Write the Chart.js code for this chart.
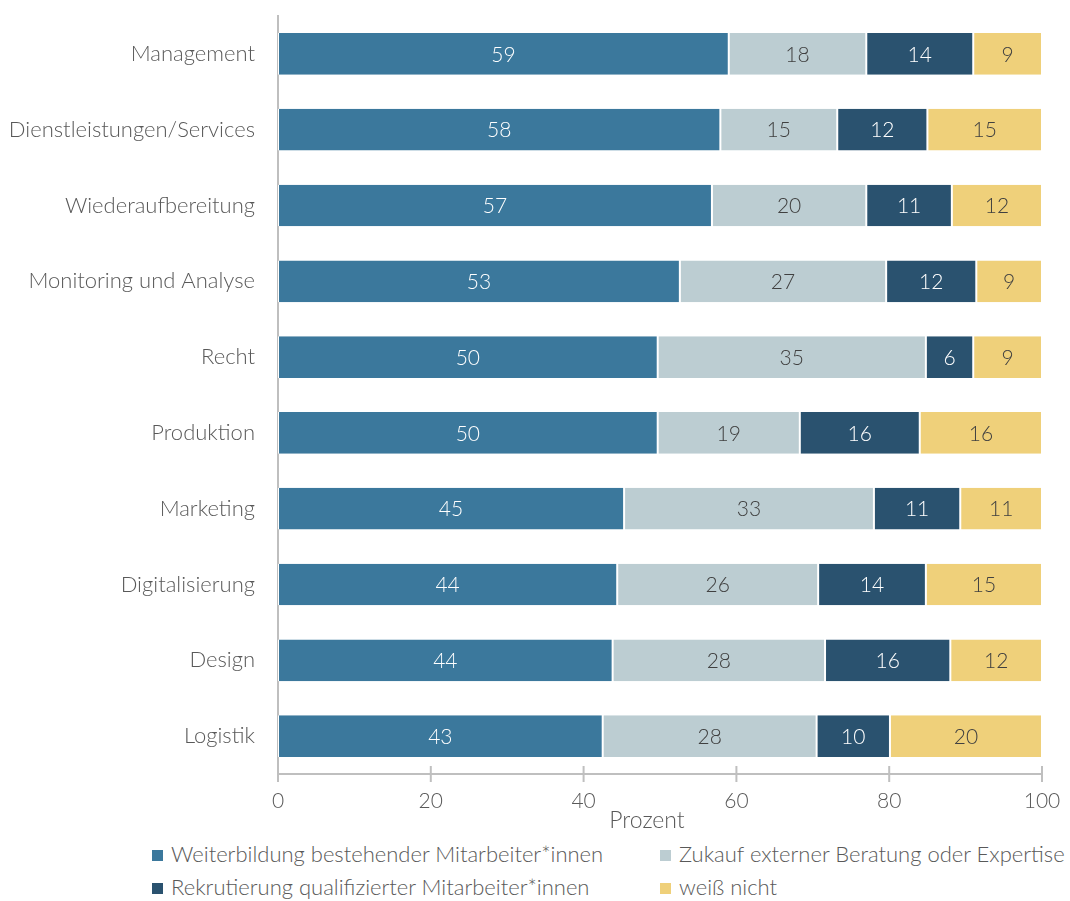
<!DOCTYPE html>
<html><head><meta charset="utf-8">
<script src="https://cdn.jsdelivr.net/npm/chart.js@4/dist/chart.umd.min.js"></script>
<style>
html,body{margin:0;padding:0;background:#fff;}
#wrap{position:relative;width:1070px;height:901px;}
#c{position:absolute;left:0;top:0;}
.legend{position:absolute;left:0;top:840px;width:1070px;font-family:Lato,"Open Sans",sans-serif;font-weight:300;font-size:22px;color:#595959;}
.li{position:absolute;white-space:nowrap;}
.li span.b{display:inline-block;width:11px;height:11px;margin-right:8px;vertical-align:1px;}
</style></head><body>
<div id="wrap"><canvas id="c" width="1070" height="835"></canvas>
<div class="legend" id="lg"></div></div>
<script>
const categories = ["Management","Dienstleistungen/Services","Wiederaufbereitung","Monitoring und Analyse","Recht","Produktion","Marketing","Digitalisierung","Design","Logistik"];
const weiterbildung = [59.0,57.9,56.8,52.6,49.7,49.7,45.3,44.4,43.8,42.5];
const zukauf = [18.0,15.3,20.2,27.0,35.1,18.6,32.7,26.3,27.8,28.0];
const rekrutierung = [14.0,11.8,11.2,11.8,6.2,15.7,11.3,14.1,16.4,9.6];
const weissNicht = [9.0,15.0,11.8,8.6,9.0,16.0,10.7,15.2,12.0,19.9];
const seriesNames = ["Weiterbildung bestehender Mitarbeiter*innen","Zukauf externer Beratung oder Expertise","Rekrutierung qualifizierter Mitarbeiter*innen","weiß nicht"];
const xTicks = [0,20,40,60,80,100];
const axisTitle = "Prozent";

const colors = ["#3B789C","#BCCDD2","#2A526F","#EFD07A"];
const labelColors = ["#ffffff","#404040","#ffffff","#404040"];
const FONT = 'Lato, "Open Sans", sans-serif';

const labelPlugin = {
  id:'vals',
  afterDatasetsDraw(chart){
    const ctx = chart.ctx;
    ctx.save();
    ctx.font = '300 21px ' + FONT;
    ctx.textAlign='center'; ctx.textBaseline='middle';
    chart.data.datasets.forEach((ds,i)=>{
      const meta = chart.getDatasetMeta(i);
      meta.data.forEach((el,j)=>{
        const p = el.getCenterPoint();
        ctx.fillStyle = labelColors[i];
        ctx.fillText(String(Math.round(ds.data[j])), p.x, p.y+1);
      });
    });
    ctx.restore();
  }
};
const tickPlugin = {
  id:'ticks2',
  afterDraw(chart){
    const xs = chart.scales.x, ctx = chart.ctx;
    const y = chart.chartArea.bottom;
    ctx.save(); ctx.strokeStyle='#BFBFBF'; ctx.lineWidth=2;
    xTicks.forEach(v=>{
      const x = xs.getPixelForValue(v);
      ctx.beginPath(); ctx.moveTo(x,y-8); ctx.lineTo(x,y+8); ctx.stroke();
    });
    ctx.fillStyle='#595959'; ctx.font='300 23px '+FONT;
    ctx.textAlign='center'; ctx.textBaseline='middle';
    ctx.fillText(axisTitle, xs.getPixelForValue(48.3), 821);
    ctx.restore();
  }
};

const datasets = [weiterbildung,zukauf,rekrutierung,weissNicht].map((d,i)=>({
  label: seriesNames[i], data: d, backgroundColor: colors[i],
  borderColor:'#ffffff', borderWidth:{left:1,right:1,top:0,bottom:0}, borderSkipped:false,
  barPercentage:0.55, categoryPercentage:1.0
}));

new Chart(document.getElementById('c'),{
  type:'bar',
  data:{labels:categories, datasets},
  options:{
    indexAxis:'y', responsive:false, animation:false,
    layout:{padding:{top:16,right:28,left:0,bottom:0}},
    plugins:{legend:{display:false}, tooltip:{enabled:false}},
    scales:{
      x:{stacked:true, min:0, max:100,
        afterBuildTicks(s){ s.ticks = xTicks.map(v=>({value:v})); },
        grid:{display:false, drawTicks:false},
        border:{display:true,color:'#BFBFBF',width:2},
        ticks:{color:'#595959', font:{family:FONT,size:21,weight:'300'}, padding:15},
        afterFit(s){ s.height = 61; s.paddingLeft=0; s.paddingRight=0; }
      },
      y:{stacked:true,
        grid:{display:false, drawTicks:false},
        border:{display:true,color:'#BFBFBF',width:2},
        ticks:{color:'#595959', font:{family:FONT,size:22,weight:'300'}, padding:23},
        afterFit(s){ s.width = 278; s.paddingTop=0; s.paddingBottom=0; }
      }
    }
  },
  plugins:[labelPlugin,tickPlugin]
});

const lg = document.getElementById('lg');
const pos = [[152,0],[660,0],[152,33],[660,33]];
seriesNames.forEach((n,i)=>{
  const d = document.createElement('div'); d.className='li';
  d.style.left=pos[i][0]+'px'; d.style.top=pos[i][1]+'px';
  d.innerHTML = '<span class="b" style="background:'+colors[i]+'"></span>'+n;
  lg.appendChild(d);
});
</script></body></html>
